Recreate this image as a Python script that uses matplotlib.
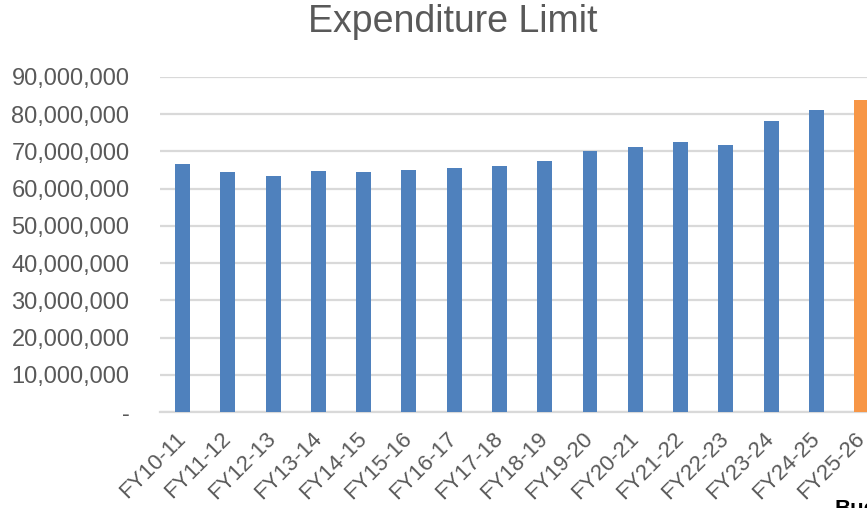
import matplotlib.pyplot as plt
from matplotlib.ticker import FuncFormatter

# ----------------- Data ----------------- #
years = ["FY10-11", "FY11-12", "FY12-13", "FY13-14", "FY14-15", "FY15-16",
         "FY16-17", "FY17-18", "FY18-19", "FY19-20", "FY20-21", "FY21-22",
         "FY22-23", "FY23-24", "FY24-25", "FY25-26"]
limits = [66.6e6, 64.5e6, 63.4e6, 64.7e6, 64.6e6, 65.0e6,
          65.6e6, 66.1e6, 67.5e6, 70.2e6, 71.2e6, 72.6e6,
          71.8e6, 78.2e6, 81.2e6, 83.9e6]
colors = ["#4f81bd"] * 15 + ["#f79646"]

plt.rcParams['font.family'] = ['Liberation Sans', 'DejaVu Sans']
text_color = "#595959"
grid_color = "#d9d9d9"

fig = plt.figure(figsize=(8.67, 5.08), dpi=100)
ax = fig.add_axes([160 / 867, 1 - 412 / 508, 1 - 160 / 867, (412 - 77) / 508])

x = range(len(years))
ax.bar(x, limits, width=0.33, color=colors, zorder=3)

ax.set_xlim(-0.5, 15.12)
ax.set_ylim(0, 90e6)
ax.set_yticks([i * 10e6 for i in range(10)])
ax.yaxis.set_major_formatter(FuncFormatter(lambda v, p: "-" if v == 0 else f"{v:,.0f}"))
ax.grid(axis="y", color=grid_color, linewidth=1.6, zorder=0)

for s in ["top", "right", "left"]:
    ax.spines[s].set_visible(False)
ax.spines["bottom"].set_color(grid_color)
ax.spines["bottom"].set_linewidth(1.6)

ax.set_xticks(list(x))
ax.set_xticklabels(years, rotation=45, ha="right", va="center", rotation_mode="anchor")
ax.tick_params(axis="x", length=0, pad=17, labelsize=16, labelcolor=text_color)
ax.tick_params(axis="y", length=0, pad=22, labelsize=17, labelcolor=text_color)

fig.text(453 / 867, 1 - 22 / 508, "Expenditure Limit", ha="center", va="center",
         fontsize=27, color=text_color)
fig.text(834 / 867, 1 - 499 / 508, "Budget", ha="left", va="top",
         fontsize=16, fontweight="bold", color="black")

fig.savefig("out.png", dpi=100)
